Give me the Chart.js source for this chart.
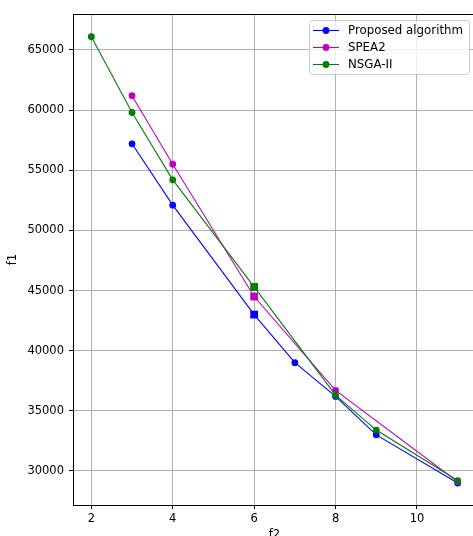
<!DOCTYPE html>
<html>
<head>
<meta charset="utf-8">
<script src="https://cdn.jsdelivr.net/npm/chart.js@4"></script>
<style>
  html, body { margin: 0; padding: 0; background: #fff; overflow: hidden; }
  canvas { display: block; }
</style>
</head>
<body>
<canvas id="myChart" width="473" height="536"></canvas>
<script>
"use strict";

// data
const propX = [3, 4, 6, 7, 8, 9, 11];
const propY = [57200, 52100, 43000, 39000, 36200, 33000, 29000];
const speaX = [3, 4, 6, 8, 11];
const speaY = [61200, 55500, 44500, 36700, 29100];
const nsgaX = [2, 3, 4, 6, 8, 9, 11];
const nsgaY = [66100, 59800, 54200, 45300, 36300, 33400, 29200];
const seriesNames = ["Proposed algorithm", "SPEA2", "NSGA-II"];
const xTicks = [2, 4, 6, 8, 10];
const yTicks = [30000, 35000, 40000, 45000, 50000, 55000, 60000, 65000];

const FONT = "'DejaVu Sans', sans-serif";

// pairs x/y into points
function toPoints(xs, ys) {
  return xs.map(function (x, i) { return { x: x, y: ys[i] }; });
}

// square marker at f2 = 6, circles elsewhere
function styles(xs) {
  return xs.map(function (x) { return x === 6 ? "rect" : "circle"; });
}
function radii(xs) {
  return xs.map(function (x) { return x === 6 ? 5.5 : 3.4; });
}

function makeSet(label, xs, ys, color, order) {
  return {
    label: label,
    data: toPoints(xs, ys),
    borderColor: color,
    backgroundColor: color,
    borderWidth: 1.1,
    pointStyle: styles(xs),
    pointRadius: radii(xs),
    pointBorderWidth: 0,
    showLine: true,
    order: order,
  };
}

// the original's right spine is cut off just outside the picture
const PLOT_RIGHT = 476;

const framePlugin = {
  id: "frame",
  afterLayout(chart) {
    const a = chart.chartArea;
    a.right = PLOT_RIGHT;
    a.width = a.right - a.left;
    const xs = chart.scales.x;
    xs.right = PLOT_RIGHT;
    xs.width = xs.right - xs.left;
    xs.configure();
  },
  afterDraw(chart) {
    const ctx = chart.ctx;
    const a = chart.chartArea;
    ctx.save();
    // top spine
    ctx.strokeStyle = "#000";
    ctx.lineWidth = 1;
    ctx.beginPath();
    ctx.moveTo(a.left, a.top + 0.5);
    ctx.lineTo(a.right, a.top + 0.5);
    ctx.stroke();

    // legend
    const bx = 309, by = 20, bw = 160, bh = 54;
    ctx.fillStyle = "rgba(255,255,255,0.8)";
    ctx.strokeStyle = "#cccccc";
    ctx.beginPath();
    ctx.roundRect(bx + 0.5, by + 0.5, bw, bh, 3);
    ctx.fill();
    ctx.stroke();

    ctx.font = "11.8px " + FONT;
    ctx.textBaseline = "middle";
    ctx.textAlign = "left";
    chart.data.datasets.forEach(function (ds, i) {
      const y = 30 + i * 17;
      ctx.strokeStyle = ds.borderColor;
      ctx.fillStyle = ds.borderColor;
      ctx.lineWidth = 1.1;
      ctx.beginPath();
      ctx.moveTo(313, y + 0.5);
      ctx.lineTo(339, y + 0.5);
      ctx.stroke();
      ctx.beginPath();
      ctx.arc(326, y + 0.5, 3.4, 0, Math.PI * 2);
      ctx.fill();
      ctx.fillStyle = "#000";
      ctx.fillText(ds.label, 348, y + 1);
    });
    ctx.restore();
  },
};

new Chart(document.getElementById("myChart"), {
  type: "scatter",
  data: {
    datasets: [
      makeSet(seriesNames[0], propX, propY, "#0000ff", 2),
      makeSet(seriesNames[1], speaX, speaY, "#bf00bf", 1),
      makeSet(seriesNames[2], nsgaX, nsgaY, "#008000", 0),
    ],
  },
  options: {
    responsive: false,
    animation: false,
    devicePixelRatio: 1,
    layout: { padding: { left: 0, top: 14, right: 0, bottom: 0 } },
    plugins: {
      legend: { display: false },
      tooltip: { enabled: false },
    },
    scales: {
      x: {
        type: "linear",
        min: 1.55,
        max: 11.45,
        afterFit(scale) { scale.height = 31; scale.paddingLeft = 0; scale.paddingRight = 0; },
        afterBuildTicks(scale) {
          scale.ticks = xTicks.map(function (v) { return { value: v }; });
        },
        grid: { color: "#b0b0b0", lineWidth: 1, tickColor: "#000", tickLength: 4 },
        border: { color: "#000", width: 1 },
        ticks: {
          color: "#000",
          padding: 3,
          maxRotation: 0,
          font: { family: FONT, size: 11.5 },
          callback(v) { return String(v); },
        },
        title: {
          display: true,
          text: "f2",
          color: "#000",
          font: { family: FONT, size: 11.5 },
          padding: { top: 0, bottom: -6 },
        },
      },
      y: {
        type: "linear",
        min: 27170,
        max: 67990,
        afterFit(scale) { scale.width = 73; },
        afterBuildTicks(scale) {
          scale.ticks = yTicks.map(function (v) { return { value: v }; });
        },
        grid: { color: "#b0b0b0", lineWidth: 1, tickColor: "#000", tickLength: 4 },
        border: { color: "#000", width: 1 },
        ticks: {
          color: "#000",
          padding: 5,
          font: { family: FONT, size: 11.5 },
          callback(v) { return String(v); },
        },
        title: {
          display: true,
          text: "f1",
          color: "#000",
          font: { family: FONT, size: 11.5 },
          padding: { top: 6, bottom: 0 },
        },
      },
    },
  },
  plugins: [framePlugin],
});
</script>
</body>
</html>
